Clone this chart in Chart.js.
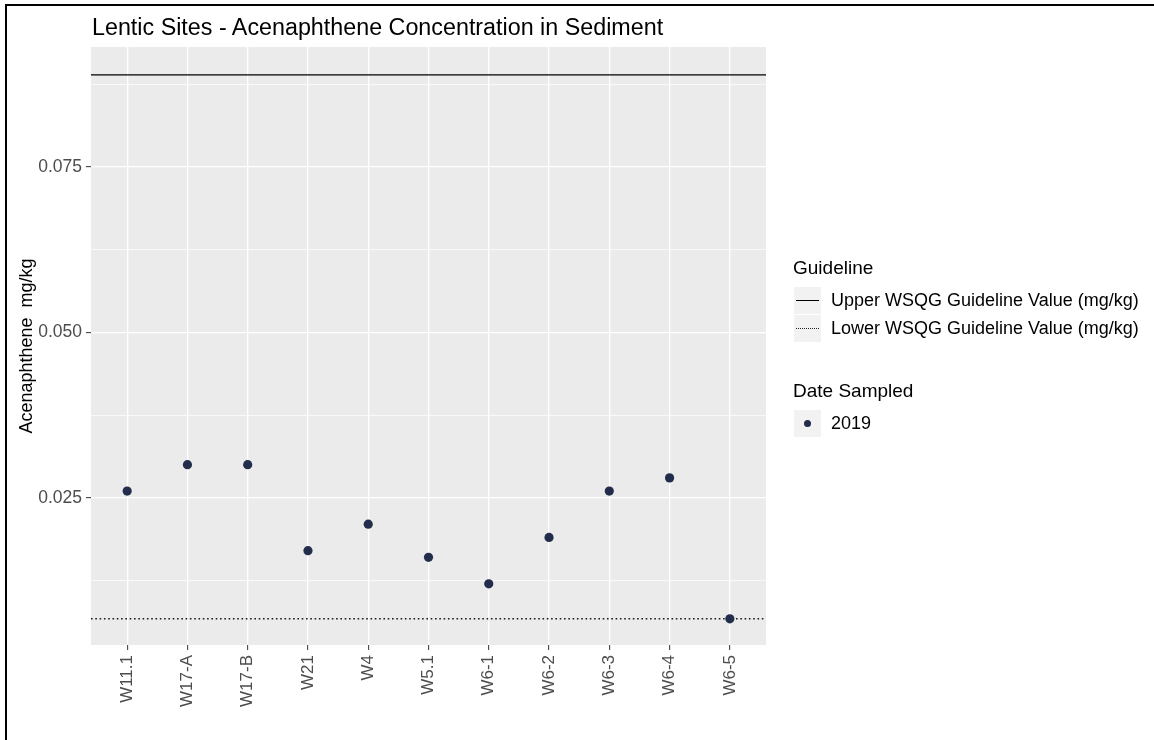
<!DOCTYPE html>
<html>
<head>
<meta charset="utf-8">
<script src="https://cdn.jsdelivr.net/npm/chart.js@4.4.1/dist/chart.umd.min.js"></script>
<style>
  body { margin: 0; background: #fff; width: 1154px; height: 740px; overflow: hidden; position: relative;
         font-family: "Liberation Sans", Arial, sans-serif; }
  #frame { position: absolute; left: 5px; top: 4px; width: 1200px; height: 800px; border: 2px solid #000; }
  #wrap { position: absolute; left: 0; top: 0; width: 1154px; height: 740px; }
  #title { position: absolute; left: 92px; top: 13px; font-size: 23.3px; line-height: 28px; color: #000; white-space: nowrap; }
  .lg-title { position: absolute; left: 793px; font-size: 19px; line-height: 24px; color: #000; white-space: nowrap; }
  .lg-row { position: absolute; left: 794px; height: 27px; display: flex; align-items: center; }
  .lg-key { width: 27px; height: 27px; background: #f2f2f2; position: relative; }
  .lg-text { margin-left: 10px; font-size: 18px; color: #000; white-space: nowrap; }
  .solid { position: absolute; left: 2px; right: 2px; top: 13px; border-top: 1.2px solid #000; }
  .dotted { position: absolute; left: 2px; right: 2px; top: 13px; border-top: 1.3px dotted #222; }
  .dot { position: absolute; left: 10px; top: 10px; width: 7px; height: 7px; border-radius: 50%; background: #222d4b; }
</style>
</head>
<body>
<div id="frame"></div>
<div id="wrap"><canvas id="chart" width="1154" height="740"></canvas></div>
<div id="title">Lentic Sites - Acenaphthene Concentration in Sediment</div>

<div class="lg-title" style="top:256px;">Guideline</div>
<div class="lg-row" style="top:287px;"><div class="lg-key"><div class="solid"></div></div><div class="lg-text">Upper WSQG Guideline Value (mg/kg)</div></div>
<div class="lg-row" style="top:315px;"><div class="lg-key"><div class="dotted"></div></div><div class="lg-text">Lower WSQG Guideline Value (mg/kg)</div></div>

<div class="lg-title" style="top:379px;">Date Sampled</div>
<div class="lg-row" style="top:410px;"><div class="lg-key"><div class="dot"></div></div><div class="lg-text">2019</div></div>

<script>
// --- Data ---
const sites = ["W11.1", "W17-A", "W17-B", "W21", "W4", "W5.1", "W6-1", "W6-2", "W6-3", "W6-4", "W6-5"];
const acenaphthene2019 = [0.026, 0.030, 0.030, 0.017, 0.021, 0.016, 0.012, 0.019, 0.026, 0.028, 0.0067];
const upperGuideline = 0.0889;
const lowerGuideline = 0.00671;
const yTicks = [0.0125, 0.025, 0.0375, 0.05, 0.0625, 0.075, 0.0875];
const yMajor = [0.025, 0.05, 0.075];

const xMin = -0.6, xMax = sites.length - 1 + 0.6;
const isMajor = v => yMajor.some(m => Math.abs(m - v) < 1e-9);

// grey ggplot panel
const panelBg = {
  id: 'panelBg',
  beforeDraw(chart) {
    const { ctx, chartArea: a } = chart;
    ctx.save();
    ctx.fillStyle = '#ebebeb';
    ctx.fillRect(a.left, a.top, a.right - a.left, a.bottom - a.top);
    ctx.restore();
  }
};

new Chart(document.getElementById('chart'), {
  type: 'scatter',
  data: {
    datasets: [
      {
        label: 'Upper WSQG Guideline Value (mg/kg)',
        type: 'line',
        data: [{ x: xMin, y: upperGuideline }, { x: xMax, y: upperGuideline }],
        borderColor: '#000',
        borderWidth: 1.2,
        pointRadius: 0,
        order: 2
      },
      {
        label: 'Lower WSQG Guideline Value (mg/kg)',
        type: 'line',
        data: [{ x: xMin, y: lowerGuideline }, { x: xMax, y: lowerGuideline }],
        borderColor: '#1a1a1a',
        borderWidth: 1.4,
        borderDash: [1.6, 2.7],
        pointRadius: 0,
        order: 2
      },
      {
        label: '2019',
        data: acenaphthene2019.map((v, i) => ({ x: i, y: v })),
        backgroundColor: '#222d4b',
        borderColor: '#222d4b',
        pointRadius: 4.6,
        borderWidth: 0,
        order: 1
      }
    ]
  },
  options: {
    responsive: false,
    animation: false,
    events: [],
    layout: { padding: { left: 0, right: 388, top: 47, bottom: 0 } },
    plugins: { legend: { display: false }, tooltip: { enabled: false } },
    scales: {
      x: {
        type: 'linear',
        min: xMin,
        max: xMax,
        afterBuildTicks: s => { s.ticks = sites.map((_, i) => ({ value: i })); },
        afterFit: s => { s.height = 740 - 645; },
        border: { display: false },
        grid: { color: '#ffffff', lineWidth: 1.3, tickColor: '#333333', tickLength: 5, tickWidth: 1 },
        ticks: {
          autoSkip: false,
          minRotation: 90,
          maxRotation: 90,
          padding: 5,
          color: '#4d4d4d',
          font: { family: '"Liberation Sans", Arial, sans-serif', size: 17 },
          callback: v => sites[v] ?? ''
        }
      },
      y: {
        min: 0.00275,
        max: 0.0931,
        afterBuildTicks: s => { s.ticks = yTicks.map(v => ({ value: v })); },
        afterFit: s => { s.width = 91; },
        border: { display: false },
        grid: {
          color: '#ffffff',
          lineWidth: c => (c.tick && isMajor(c.tick.value)) ? 1.3 : 0.7,
          tickColor: c => (c.tick && isMajor(c.tick.value)) ? '#333333' : 'rgba(0,0,0,0)',
          tickLength: 5,
          tickWidth: 1
        },
        title: {
          display: true,
          text: 'Acenaphthene  mg/kg',
          color: '#000',
          font: { family: '"Liberation Sans", Arial, sans-serif', size: 18 },
          padding: { top: 16, bottom: 0 }
        },
        ticks: {
          padding: 4,
          color: '#4d4d4d',
          font: { family: '"Liberation Sans", Arial, sans-serif', size: 17.5 },
          callback: v => isMajor(v) ? v.toFixed(3) : ''
        }
      }
    }
  },
  plugins: [panelBg]
});
</script>
</body>
</html>
